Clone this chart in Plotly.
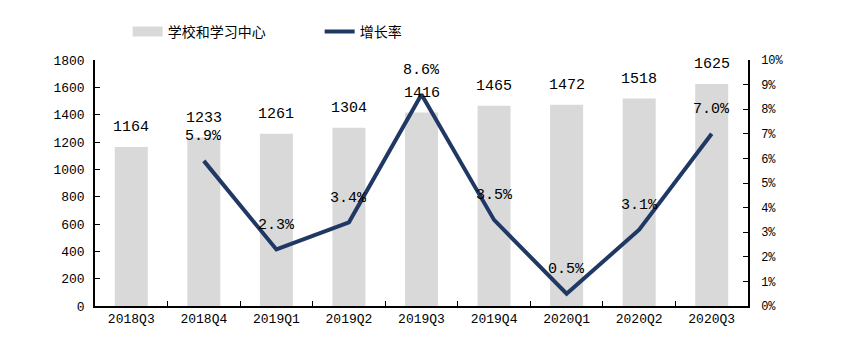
import plotly.graph_objects as go

categories = ["2018Q3", "2018Q4", "2019Q1", "2019Q2", "2019Q3", "2019Q4", "2020Q1", "2020Q2", "2020Q3"]
centers = [1164, 1233, 1261, 1304, 1416, 1465, 1472, 1518, 1625]
growth = [None, 5.9, 2.3, 3.4, 8.6, 3.5, 0.5, 3.1, 7.0]
left_ticks = [0, 200, 400, 600, 800, 1000, 1200, 1400, 1600, 1800]
right_ticks = list(range(0, 11))

NUM_FONT = "Liberation Mono, Noto Sans CJK SC, monospace"
CJK_FONT = "Noto Sans CJK SC, sans-serif"
LINE_COLOR = "#203864"
BAR_COLOR = "#D9D9D9"

fig = go.Figure()
fig.add_trace(go.Bar(
    x=categories, y=centers, name="学校和学习中心",
    marker=dict(color=BAR_COLOR, line=dict(width=0)),
    yaxis="y", showlegend=False,
))
# legend entry for bars drawn as a wide rectangle (legend only)
fig.add_trace(go.Scatter(
    x=[categories[0]], y=[None], name="学校和学习中心", mode="lines",
    line=dict(color=BAR_COLOR, width=10), yaxis="y", showlegend=True,
    hoverinfo="skip",
))
fig.add_trace(go.Scatter(
    x=categories, y=growth, name="增长率", mode="lines",
    line=dict(color=LINE_COLOR, width=4),
    yaxis="y2",
))

annotations = []
for c, v in zip(categories, centers):
    annotations.append(dict(x=c, y=v, xref="x", yref="y", text=str(v),
                            showarrow=False, yshift=19,
                            font=dict(family=NUM_FONT, size=15, color="#000")))
for c, g in zip(categories, growth):
    if g is None:
        continue
    annotations.append(dict(x=c, y=g, xref="x", yref="y2", text=f"{g:.1f}%",
                            showarrow=False, yshift=24,
                            font=dict(family=NUM_FONT, size=15, color="#000")))

fig.update_layout(
    width=850, height=354,
    margin=dict(l=95, r=102, t=60, b=48),
    paper_bgcolor="white", plot_bgcolor="white",
    bargap=0.545,
    font=dict(family=NUM_FONT, size=13, color="#000"),
    showlegend=True,
    legend=dict(orientation="h", x=0.05, xanchor="left", y=1.114, yanchor="middle",
                xref="paper", yref="paper",
                font=dict(family=CJK_FONT, size=14, color="#000"),
                entrywidth=147, entrywidthmode="pixels",
                bgcolor="rgba(0,0,0,0)"),
    xaxis=dict(
        type="category", showline=True, linecolor="#000", linewidth=1.5,
        ticks="inside", tickson="boundaries", ticklen=5, tickcolor="#000",
        tickfont=dict(family=NUM_FONT, size=13), showgrid=False,
        mirror=False, fixedrange=True,
    ),
    yaxis=dict(
        range=[0, 1800], tickvals=left_ticks, showline=True, linecolor="#000", linewidth=1.5,
        ticks="inside", ticklen=5, tickcolor="#000", showgrid=False, zeroline=False,
        tickfont=dict(family=NUM_FONT, size=13), ticklabelstandoff=6,
    ),
    yaxis2=dict(
        range=[0, 10], tickvals=right_ticks, ticktext=[f"{t}%" for t in right_ticks],
        overlaying="y", side="right", showline=True, linecolor="#000", linewidth=1.5,
        ticks="inside", ticklen=5, tickcolor="#000", showgrid=False, zeroline=False,
        tickfont=dict(family=NUM_FONT, size=12), ticklabelstandoff=9,
    ),
    annotations=annotations,
)

fig.write_html("out.html")
